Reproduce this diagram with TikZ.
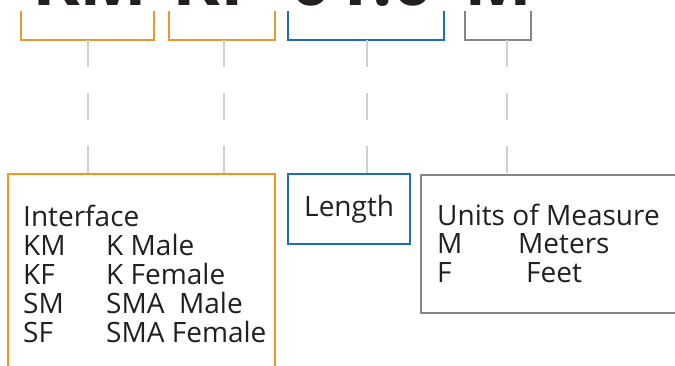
\documentclass[tikz,border=0pt]{standalone}
\usepackage{fontspec}
\setmainfont{Open Sans}
\usetikzlibrary{calc}
\definecolor{ink}{HTML}{231F20}
\definecolor{brOrange}{HTML}{E89A2C}
\definecolor{boxOrange}{HTML}{F7941D}
\definecolor{lenBlue}{HTML}{1F6DB6}
\definecolor{unitGray}{HTML}{85868A}
\definecolor{dashGray}{HTML}{D0D0D0}
\tikzset{
  bracket/.style={line width=2.3pt},
  dashline/.style={draw=dashGray, line width=2pt, dash pattern=on 26.6pt off 26.6pt},
  box/.style={draw, line width=2.3pt, inner sep=0pt, anchor=north west},
  code/.style={font=\bfseries\fontsize{72}{72}\selectfont, text=ink, inner sep=0pt, anchor=base},
  txt/.style={font=\fontsize{28}{29}\selectfont, text=ink, align=left, inner sep=0pt, anchor=base west},
}

\begin{document}
\begin{tikzpicture}[x=1pt,y=-1pt]
\clip (0,0) rectangle (675,366);
% part number, cut off at the top
\node[code] (pKM) at (90,6) {KM};
\node[code] (pKF) at (216,6) {KF};
\node[code] (pLen) at (362,6) {01.0};
\node[code] (pUnit) at (498,6) {M};
% brackets under each part
\draw[bracket, draw=brOrange] (21,11) |- (154,40) -- (154,11);
\draw[bracket, draw=brOrange] (169,11) |- (275,40) -- (275,11);
\draw[bracket, draw=lenBlue] (288,11) |- (444,40) -- (444,11);
\draw[bracket, draw=unitGray] (465,11) |- (531,40) -- (531,11);
\coordinate (kmFoot) at (88,40);
\coordinate (kfFoot) at (224,40);
\coordinate (lenFoot) at (367,40);
\coordinate (unitFoot) at (507,40);
% boxes
\node[box, draw=boxOrange, minimum width=267pt, minimum height=230pt] (iface) at (7,173) {};
\node[box, draw=lenBlue, minimum width=122pt, minimum height=70pt, font=\fontsize{28}{29}\selectfont, text=ink] (len) at (287,173) {Length};
\node[box, draw=unitGray, minimum width=300pt, minimum height=138pt] (unit) at (420,174) {};
% base of a block is its last line
\node[txt] (ifaceText) at ($(iface.north west)+(16,169)$) {Interface\\
  \makebox[83pt][l]{KM}K Male\\
  \makebox[83pt][l]{KF}K Female\\
  \makebox[83pt][l]{SM}SMA\ \ Male\\
  \makebox[83pt][l]{SF}SMA Female};
\node[txt] (unitText) at ($(unit.north west)+(17,109)$) {Units of Measure\\
  \makebox[81pt][l]{M}Meters\\
  \makebox[89pt][l]{F}Feet};
% dashed leaders
\draw[dashline] (kmFoot) -- (kmFoot |- iface.north);
\draw[dashline] (kfFoot) -- (kfFoot |- iface.north);
\draw[dashline] (lenFoot) -- (lenFoot |- len.north);
\draw[dashline] (unitFoot) -- (unitFoot |- unit.north);
\end{tikzpicture}
\end{document}
